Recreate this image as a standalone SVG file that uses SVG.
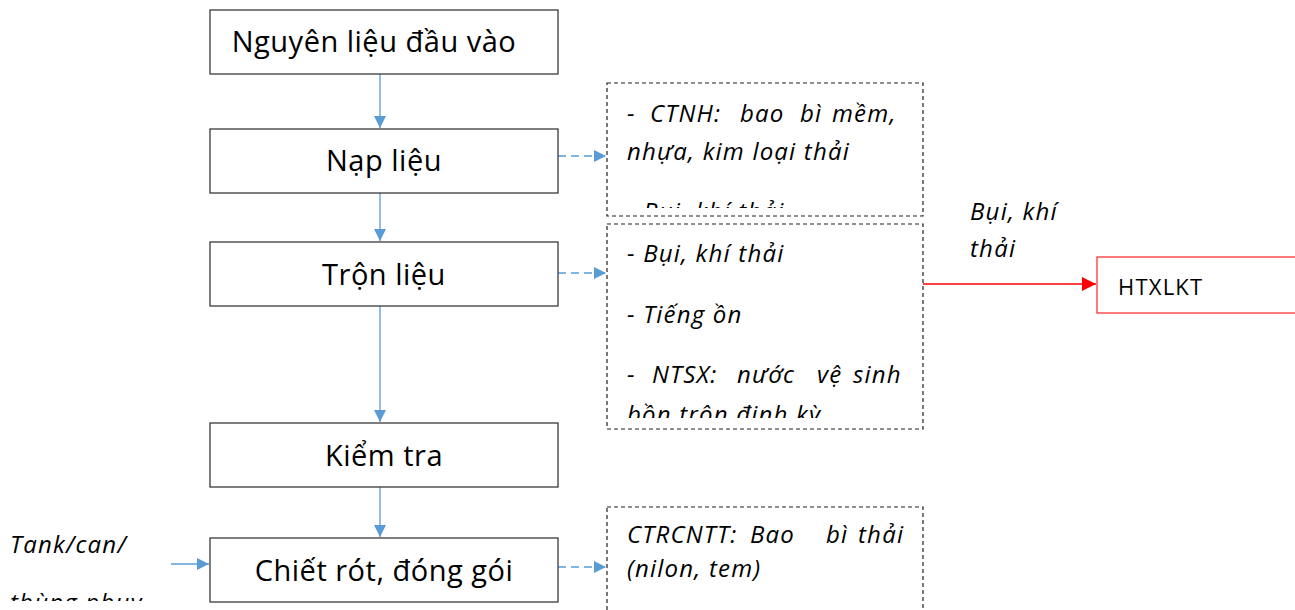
<svg xmlns="http://www.w3.org/2000/svg" width="1295" height="610" viewBox="0 0 1295 610">
<style>
.box{fill:#fff;stroke:#3a3a3a;stroke-width:1.3}
.dbox{fill:#fff;stroke:#222;stroke-width:1.2;stroke-dasharray:4,3}
.main{font-family:"Open Sans","Noto Sans",sans-serif;font-size:29px;letter-spacing:0.5px;fill:#000;text-anchor:middle}
.it{font-family:"Open Sans","Noto Sans",sans-serif;font-style:italic;font-size:24px;letter-spacing:1.2px;fill:#000}
.flow{stroke:#5B9BD5;stroke-width:1.3;fill:none}
.dflow{stroke:#5B9BD5;stroke-width:1.3;fill:none;stroke-dasharray:8,5}
</style>
<defs>
<marker id="ab" viewBox="0 0 10 10" refX="10" refY="5" markerWidth="12" markerHeight="12" markerUnits="userSpaceOnUse" orient="auto"><path d="M0,0L10,5L0,10z" fill="#5B9BD5"/></marker>
<marker id="ar" viewBox="0 0 10 10" refX="10" refY="5" markerWidth="14" markerHeight="14" markerUnits="userSpaceOnUse" orient="auto"><path d="M0,0L10,5L0,10z" fill="#ff0000"/></marker>
<clipPath id="c1"><rect x="607" y="83" width="316" height="125"/></clipPath>
<clipPath id="c2"><rect x="607" y="224" width="316" height="194"/></clipPath>
<clipPath id="c3"><rect x="0" y="520" width="200" height="81"/></clipPath>
</defs>
<g id="connectors">
<line class="flow" x1="380" y1="74" x2="380" y2="128" marker-end="url(#ab)"/>
<line class="flow" x1="380" y1="193" x2="380" y2="241" marker-end="url(#ab)"/>
<line class="flow" x1="380" y1="306" x2="380" y2="422" marker-end="url(#ab)"/>
<line class="flow" x1="380" y1="487" x2="380" y2="537" marker-end="url(#ab)"/>
<line class="dflow" x1="558" y1="156" x2="606" y2="156" marker-end="url(#ab)"/>
<line class="dflow" x1="558" y1="273" x2="606" y2="273" marker-end="url(#ab)"/>
<line class="dflow" x1="558" y1="567" x2="606" y2="567" marker-end="url(#ab)"/>
<line class="flow" x1="171" y1="564" x2="209" y2="564" marker-end="url(#ab)"/>
<line x1="923" y1="284" x2="1096" y2="284" stroke="#ff0000" stroke-width="1.3" marker-end="url(#ar)"/>
</g>
<g id="n1"><rect class="box" x="210" y="10" width="348" height="64"/><text class="main" x="374" y="52">Nguyên liệu đầu vào</text></g>
<g id="n2"><rect class="box" x="210" y="129" width="348" height="64"/><text class="main" x="384" y="171">Nạp liệu</text></g>
<g id="n3"><rect class="box" x="210" y="242" width="348" height="64"/><text class="main" x="384" y="285">Trộn liệu</text></g>
<g id="n4"><rect class="box" x="210" y="423" width="348" height="64"/><text class="main" x="384" y="466">Kiểm tra</text></g>
<g id="n5"><rect class="box" x="210" y="538" width="348" height="64"/><text class="main" x="384" y="581">Chiết rót, đóng gói</text></g>
<g id="d1"><rect class="dbox" x="607" y="83" width="316" height="133"/>
<g clip-path="url(#c1)">
<text class="it" y="122"><tspan x="627">-</tspan><tspan x="650">CTNH:</tspan><tspan x="740">bao</tspan><tspan x="800">bì</tspan><tspan x="832">mềm,</tspan></text>
<text class="it" x="627" y="160">nhựa, kim loại thải</text>
<text class="it" x="627" y="220">- Bụi, khí thải</text>
</g></g>
<g id="d2"><rect class="dbox" x="607" y="224" width="316" height="205"/>
<g clip-path="url(#c2)">
<text class="it" x="627" y="262">- Bụi, khí thải</text>
<text class="it" x="627" y="323">- Tiếng ồn</text>
<text class="it" y="383"><tspan x="627">-</tspan><tspan x="652">NTSX:</tspan><tspan x="737">nước</tspan><tspan x="817">vệ</tspan><tspan x="853">sinh</tspan></text>
<text class="it" x="627" y="423">bồn trộn định kỳ</text>
</g></g>
<g id="d3"><rect class="dbox" x="607" y="507" width="316" height="110"/>
<text class="it" y="543"><tspan x="627">CTRCNTT:</tspan><tspan x="750">Bao</tspan><tspan x="826">bì</tspan><tspan x="858">thải</tspan></text>
<text class="it" x="627" y="577">(nilon, tem)</text>
</g>
<g id="htxlkt"><rect x="1097" y="257" width="210" height="56" fill="#fff" stroke="#ff3333" stroke-width="1.3"/><text x="1118" y="295" font-family="'Open Sans','Noto Sans',sans-serif" font-size="22" letter-spacing="1.2" fill="#000">HTXLKT</text></g>
<g id="lbl-bui"><text class="it" x="970" y="220">Bụi, khí</text><text class="it" x="970" y="257">thải</text></g>
<g id="lbl-tank"><g clip-path="url(#c3)"><text class="it" x="10" y="553">Tank/can/</text><text class="it" x="10" y="611">thùng phuy</text></g></g>
</svg>
